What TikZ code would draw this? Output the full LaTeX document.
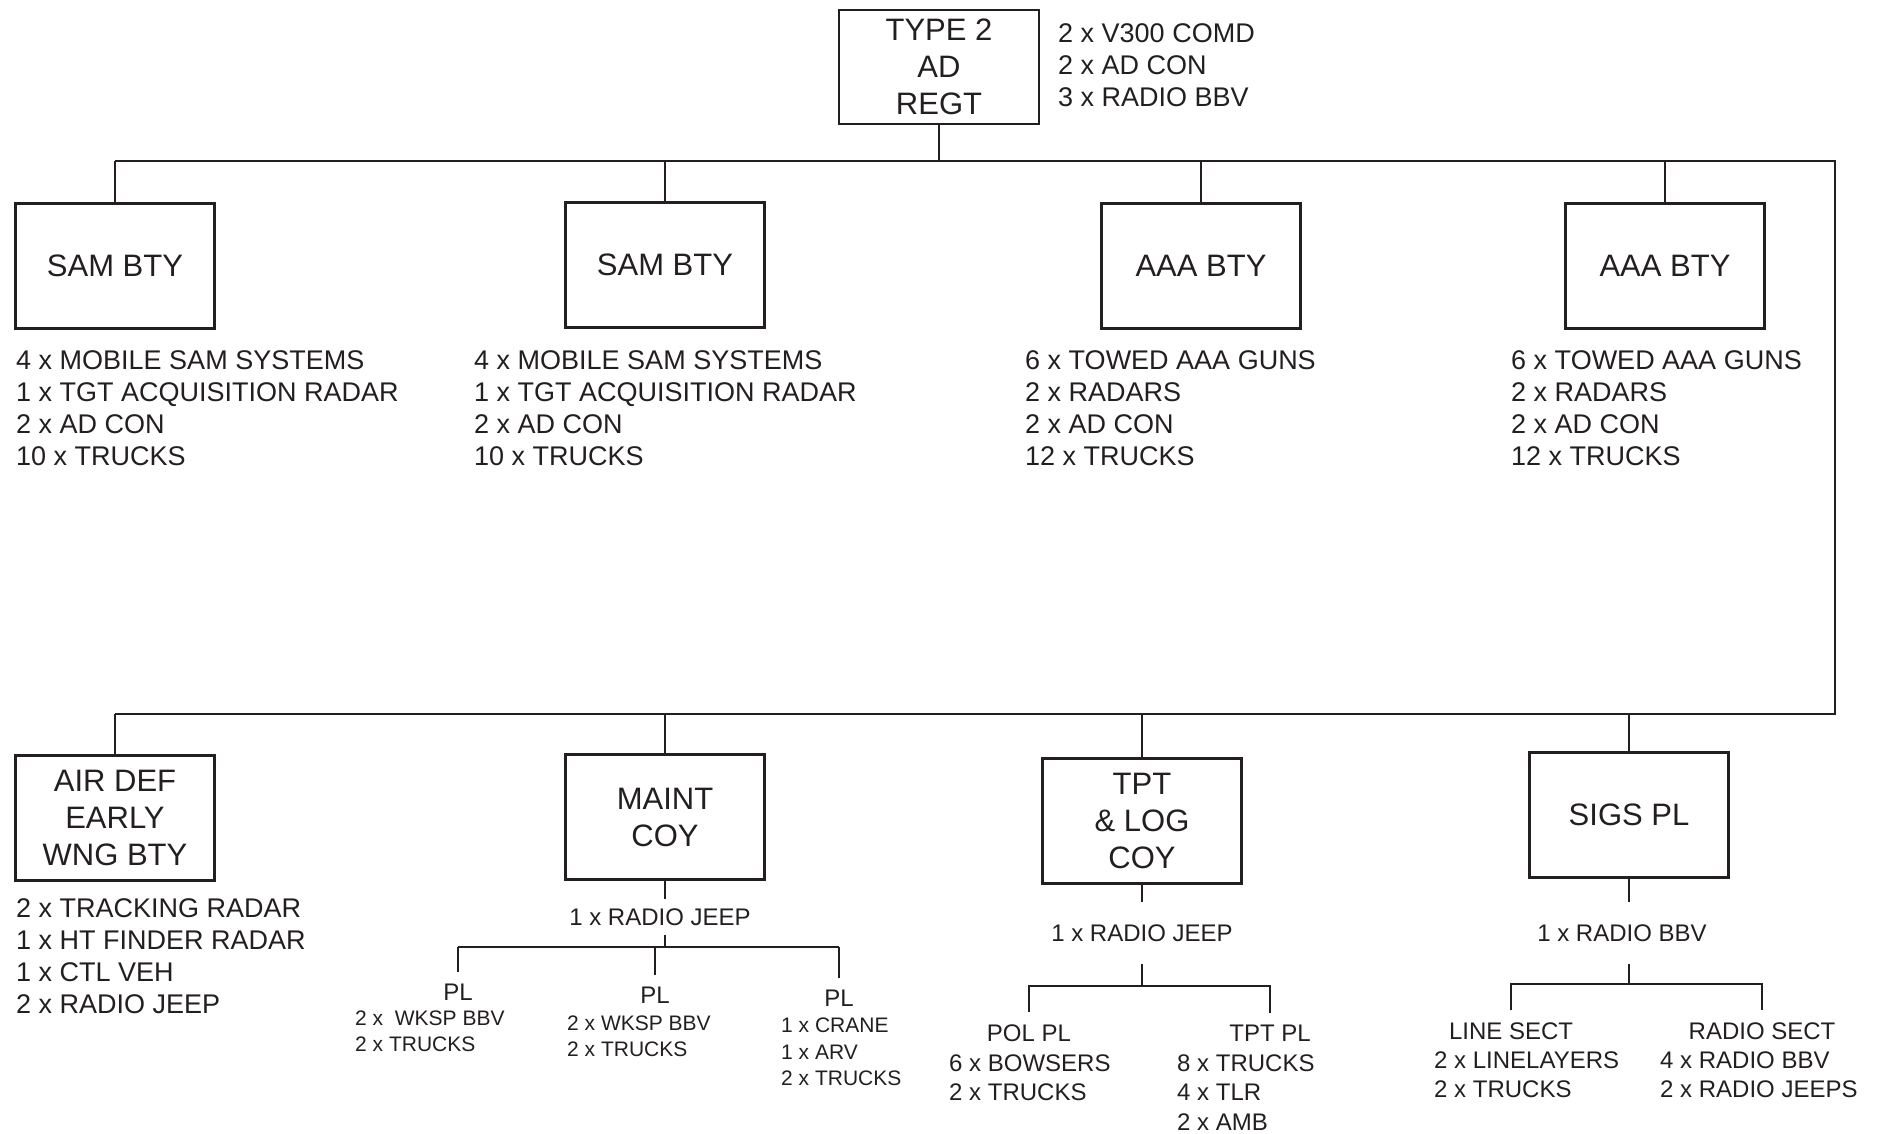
\documentclass[tikz,border=0pt]{standalone}
\usepackage{fontspec}
\setmainfont{Liberation Sans}
\usetikzlibrary{calc,positioning}
\definecolor{ink}{HTML}{231F20}
\tikzset{unitbox/.style={draw=ink,line width=2.2pt,minimum width=199pt,minimum height=125pt,inner sep=0pt,align=center,text=ink,font=\fontsize{31}{37}\selectfont},
kitlist/.style={anchor=north west,align=left,inner sep=0pt,text=ink,font=\fontsize{27}{32}\selectfont},
kitsmall/.style={kitlist,font=\fontsize{24}{29.5}\selectfont},
kittiny/.style={kitlist,font=\fontsize{21}{26.5}\selectfont},
subhead/.style={inner xsep=0pt,inner ysep=12pt,text=ink,font=\fontsize{24}{29}\selectfont},
hqveh/.style={inner xsep=0pt,inner ysep=9pt,text=ink,font=\fontsize{24}{29}\selectfont},
orgline/.style={draw=ink,line width=2.2pt}}
\begin{document}
\begin{tikzpicture}[x=1pt,y=-1pt]
\useasboundingbox (0,0) rectangle (1885,1133);
\node[unitbox,minimum width=200pt,minimum height=114pt] (regt) at (939,67) {TYPE 2\\AD\\REGT};
\node[kitlist] (regtkit) at (1058,23) {2 x V300 COMD\\2 x AD CON\\3 x RADIO BBV};

\node[unitbox] (sam1) at (115,266) {SAM BTY};
\node[unitbox] (sam2) at (665,265) {SAM BTY};
\node[unitbox] (aaa1) at (1201,266) {AAA BTY};
\node[unitbox] (aaa2) at (1665,266) {AAA BTY};
\node[kitlist] (sam1kit) at (16,350) {4 x MOBILE SAM SYSTEMS\\1 x TGT ACQUISITION RADAR\\2 x AD CON\\10 x TRUCKS};
\node[kitlist] (sam2kit) at (474,350) {4 x MOBILE SAM SYSTEMS\\1 x TGT ACQUISITION RADAR\\2 x AD CON\\10 x TRUCKS};
\node[kitlist] (aaa1kit) at (1025,350) {6 x TOWED AAA GUNS\\2 x RADARS\\2 x AD CON\\12 x TRUCKS};
\node[kitlist] (aaa2kit) at (1511,350) {6 x TOWED AAA GUNS\\2 x RADARS\\2 x AD CON\\12 x TRUCKS};

\node[unitbox] (adew) at (115,818) {AIR DEF\\EARLY\\WNG BTY};
\node[unitbox] (maint) at (665,817) {MAINT\\COY};
\node[unitbox] (tpt) at (1142,821) {TPT\\\&{} LOG\\COY};
\node[unitbox] (sigs) at (1629,815) {SIGS PL};
\node[kitlist] (adewkit) at (16,898) {2 x TRACKING RADAR\\1 x HT FINDER RADAR\\1 x CTL VEH\\2 x RADIO JEEP};

\coordinate (topbus) at (939,161);
\coordinate (busend) at (1835,161);
\coordinate (lowbus) at (1835,714);
\draw[orgline] (regt.south) -- (topbus);
\draw[orgline] (sam1.north |- topbus) -- (busend) -- (lowbus) -- (adew.north |- lowbus);
\foreach \u in {sam1,sam2,aaa1,aaa2}
 \draw[orgline] (\u.north |- topbus) -- (\u.north);
\foreach \u in {adew,maint,tpt,sigs}
 \draw[orgline] (\u.north |- lowbus) -- (\u.north);

\node[hqveh] (mjeep) at (660,917) {1 x RADIO JEEP};
\coordinate (mbar) at (665,947);
\draw[orgline] (maint.south) -- (maint.south |- mjeep.north);
\draw[orgline] (maint.south |- mjeep.south) -- (mbar);
\node[subhead] (pl1) at (458,992) {PL};
\node[subhead] (pl2) at (655,995) {PL};
\node[subhead] (pl3) at (839,998) {PL};
\draw[orgline] (pl1.north |- mbar) -- (pl3.north |- mbar);
\foreach \p in {pl1,pl2,pl3}
 \draw[orgline] (\p.north |- mbar) -- (\p.north);
\node[kittiny] (pl1kit) at (355,1010.5) {2 x~ WKSP BBV\\2 x TRUCKS};
\node[kittiny] (pl2kit) at (567,1015.5) {2 x WKSP BBV\\2 x TRUCKS};
\node[kittiny] (pl3kit) at (781,1018) {1 x CRANE\\1 x ARV\\2 x TRUCKS};

\node[hqveh,inner ysep=22pt] (tjeep) at (1142,933) {1 x RADIO JEEP};
\coordinate (tbar) at (1142,986);
\draw[orgline] (tpt.south) -- (tjeep.north);
\draw[orgline] (tjeep.south) -- (tbar);
\node[subhead] (polpl) at (1029,1033) {POL PL};
\node[subhead] (tptpl) at (1270,1033) {TPT PL};
\draw[orgline] (polpl.north) -- (polpl.north |- tbar) -- (tptpl.north |- tbar) -- (tptpl.north);
\node[kitsmall] (polkit) at (949,1054.4) {6 x BOWSERS\\2 x TRUCKS};
\node[kitsmall] (tptkit) at (1177,1054.4) {8 x TRUCKS\\4 x TLR\\2 x AMB};

\node[hqveh,inner ysep=22pt] (sradio) at (1622,933) {1 x RADIO BBV};
\coordinate (sbar) at (1629,984);
\draw[orgline] (sigs.south) -- (sigs.south |- sradio.north);
\draw[orgline] (sigs.south |- sradio.south) -- (sbar);
\node[subhead] (linesect) at (1511,1031) {LINE SECT};
\node[subhead] (radiosect) at (1762,1031) {RADIO SECT};
\draw[orgline] (linesect.north) -- (linesect.north |- sbar) -- (radiosect.north |- sbar) -- (radiosect.north);
\node[kitsmall] (linekit) at (1434,1051.4) {2 x LINELAYERS\\2 x TRUCKS};
\node[kitsmall] (radiokit) at (1660,1051.4) {4 x RADIO BBV\\2 x RADIO JEEPS};
\end{tikzpicture}
\end{document}
